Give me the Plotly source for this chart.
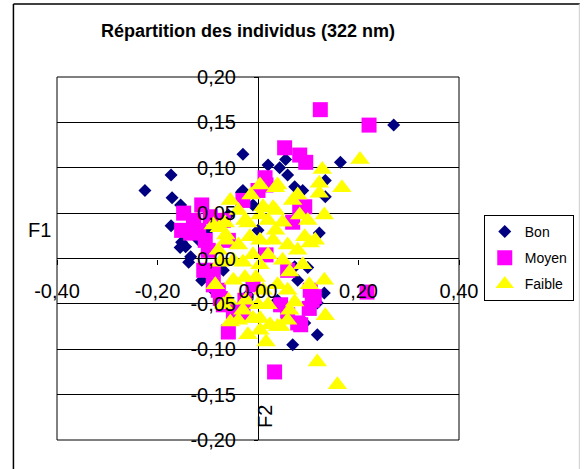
import plotly.graph_objects as go

# ---- data ----
bon_x = [-0.225, -0.173, -0.171, -0.154, -0.173, -0.144, -0.134, -0.138, -0.112, -0.030,
         0.020, 0.043, 0.055, 0.073, 0.089, 0.059, 0.164, 0.270, 0.134, 0.134,
         0.122, -0.033, -0.033, 0.073, 0.099, 0.132, 0.118, 0.118, 0.069, 0.093,
         -0.118, -0.099, -0.059, -0.010, -0.069, -0.089, 0.000, -0.020, 0.039, 0.079,
         -0.030, -0.152, -0.155]
bon_y = [0.075, 0.092, 0.067, 0.059, 0.036, 0.013, 0.002, -0.004, -0.024, 0.115,
         0.103, 0.100, 0.109, 0.079, 0.075, 0.092, 0.106, 0.147, 0.086, 0.068,
         0.028, 0.073, -0.060, -0.009, -0.010, -0.038, -0.049, -0.084, -0.095, -0.071,
         0.020, 0.031, 0.048, 0.059, -0.013, -0.035, 0.031, -0.040, -0.046, -0.024,
         0.075, 0.018, 0.012]

moyen_x = [0.124, 0.221, 0.053, 0.083, 0.095, 0.014, 0.093, 0.069, -0.148, -0.112,
           -0.095, -0.134, -0.099, -0.089, -0.079, -0.059, 0.033, 0.217, -0.026, 0.045,
           0.079, 0.104, 0.102, -0.039, -0.069, -0.010, 0.016, 0.083, -0.030, -0.059,
           -0.118, -0.069, 0.059, 0.000, 0.016, 0.108, -0.128, -0.105,
           -0.108, -0.089, -0.075, -0.049, -0.030, -0.152, -0.128, 0.085, 0.112, 0.059]
moyen_y = [0.164, 0.147, 0.122, 0.114, 0.106, 0.089, 0.057, 0.040, 0.050, 0.059,
           0.046, 0.028, 0.009, -0.013, -0.035, -0.081, -0.125, -0.037, -0.046, -0.051,
           -0.071, -0.035, -0.055, -0.057, -0.051, -0.029, 0.004, 0.053, 0.064, 0.020,
           0.031, 0.042, -0.013, 0.075, 0.081, -0.046, 0.040, 0.020,
           -0.013, -0.029, -0.044, -0.059, -0.062, 0.031, 0.042, -0.073, -0.042, -0.062]

faible_x = [0.203, 0.167, 0.158, 0.118, 0.134, 0.016, 0.128, 0.122, 0.122, 0.132,
            0.083, 0.099, 0.035, -0.014, 0.010, 0.035, -0.026, -0.016, 0.035, 0.030,
            0.093, 0.104, 0.079, -0.065, -0.020, 0.132, 0.073, 0.045, 0.024, -0.010,
            0.000, -0.085, -0.026, 0.039, -0.049, -0.039, 0.004, 0.049, -0.059, 0.010,
            0.059, -0.010, 0.020, -0.030, 0.004, 0.059, 0.114, 0.069, 0.030, 0.039,
            -0.077, -0.064,
            -0.055, -0.039, 0.004, 0.049, -0.063, 0.004, 0.059, -0.075, -0.030, 0.020,
            0.063, -0.049, -0.004, 0.039, -0.069, -0.024, 0.020, 0.063, -0.039, 0.004,
            -0.020, -0.055, -0.089, 0.089, 0.102, 0.079, 0.004, -0.079]
faible_y = [0.109, 0.078, -0.139, -0.114, -0.063, -0.092, 0.098, 0.083, 0.072, 0.048,
            0.048, 0.042, 0.078, 0.070, 0.057, 0.053, 0.042, 0.024, 0.031, 0.020,
            0.024, 0.017, 0.009, 0.039, 0.039, -0.024, -0.048, -0.075, -0.073, -0.066,
            -0.051, -0.029, -0.021, -0.075, -0.002, 0.015, -0.007, -0.002, -0.046, -0.035,
            -0.035, 0.004, 0.042, -0.057, -0.079, -0.068, 0.020, 0.064, 0.056, 0.081,
            0.034, 0.026,
            0.064, 0.053, 0.048, 0.040, 0.020, 0.020, 0.015, -0.004, -0.004, 0.004,
            -0.015, -0.024, -0.021, -0.029, -0.051, -0.046, -0.051, -0.057, -0.068, -0.066,
            -0.084, -0.070, 0.037, -0.007, -0.029, 0.070, 0.081, 0.009]

series_names = ["Bon", "Moyen", "Faible"]

x_tick_vals = [-0.40, -0.20, 0.00, 0.20, 0.40]
x_tick_text = ["-0,40", "-0,20", "0,00", "0,20", "0,40"]
y_tick_vals = [-0.20, -0.15, -0.10, -0.05, 0.00, 0.05, 0.10, 0.15, 0.20]
y_tick_text = ["-0,20", "-0,15", "-0,10", "-0,05", "0,00", "0,05", "0,10", "0,15", "0,20"]

title_text = "Répartition des individus (322 nm)"
x_title = "F1"
y_title = "F2"

FONT = "Liberation Sans, Arial, sans-serif"

fig = go.Figure()
fig.add_trace(go.Scatter(x=bon_x, y=bon_y, mode="markers", name=series_names[0],
                         legendgroup="g1",
                         marker=dict(symbol="diamond", size=10, color="#000080",
                                     line=dict(width=0))))
fig.add_trace(go.Scatter(x=moyen_x, y=moyen_y, mode="markers", name=series_names[1],
                         legendgroup="g2",
                         marker=dict(symbol="square", size=15, color="#FF00FF",
                                     line=dict(width=0))))
fig.add_trace(go.Scatter(x=faible_x, y=faible_y, mode="markers", name=series_names[2],
                         legendgroup="g3",
                         marker=dict(symbol="triangle-up", size=17, color="#FFFF00",
                                     line=dict(width=0))))

# plot area: x 57..463, y 77..440
W, H = 586, 469
L, R, T, B = 57, 123, 77, 29
pw, ph = W - L - R, H - T - B


def px2x(px):
    return (px - L) / pw


def py2y(py):
    return (H - B - py) / ph


fig.update_layout(
    width=W, height=H,
    margin=dict(l=L, r=R, t=T, b=B),
    paper_bgcolor="white", plot_bgcolor="white",
    font=dict(family=FONT, color="black"),
    title=dict(text=title_text, x=248 / W, xref="container", xanchor="center",
               y=1 - 31 / H, yref="container", yanchor="middle",
               font=dict(family=FONT, size=18, color="black", weight="bold")),
    showlegend=True,
    legend=dict(x=px2x(488), y=py2y(215), xanchor="left", yanchor="top",
                bordercolor="black", borderwidth=1, bgcolor="white",
                font=dict(family=FONT, size=14, color="black"),
                itemwidth=30, traceorder="grouped", tracegroupgap=5),
    xaxis=dict(range=[-0.4, 0.4], anchor="free", position=0.5,
               showgrid=False, showline=False,
               zeroline=True, zerolinecolor="black", zerolinewidth=1,
               tickmode="array", tickvals=x_tick_vals, ticktext=x_tick_text,
               ticks="outside", ticklen=5, tickcolor="black", tickwidth=1,
               ticklabelstandoff=9,
               tickfont=dict(family=FONT, size=20, color="black")),
    yaxis=dict(range=[-0.2, 0.2], anchor="free", position=0.5,
               showgrid=True, gridcolor="black", gridwidth=1,
               showline=False,
               zeroline=True, zerolinecolor="black", zerolinewidth=1,
               tickmode="array", tickvals=y_tick_vals, ticktext=y_tick_text,
               ticks="outside", ticklen=4, tickcolor="black", tickwidth=1,
               ticklabelstandoff=14,
               tickfont=dict(family=FONT, size=20, color="black")),
    annotations=[
        dict(text=x_title, x=px2x(39), y=py2y(230), xref="paper", yref="paper",
             showarrow=False, xanchor="center", yanchor="middle",
             font=dict(family=FONT, size=20, color="black")),
        dict(text=y_title, x=px2x(267), y=py2y(416), xref="paper", yref="paper",
             showarrow=False, xanchor="center", yanchor="middle", textangle=-90,
             font=dict(family=FONT, size=20, color="black")),
    ],
    shapes=[
        # plot area border
        dict(type="rect", xref="paper", yref="paper", x0=0, y0=0, x1=1, y1=1,
             line=dict(color="black", width=1), layer="above"),
        # chart area border
        dict(type="line", xref="paper", yref="paper",
             x0=px2x(13), x1=px2x(13), y0=py2y(4), y1=py2y(480),
             line=dict(color="black", width=1.5)),
        dict(type="line", xref="paper", yref="paper",
             x0=px2x(13), x1=px2x(585), y0=py2y(4), y1=py2y(4),
             line=dict(color="black", width=1.5)),
        dict(type="line", xref="paper", yref="paper",
             x0=px2x(584.5), x1=px2x(584.5), y0=py2y(4), y1=py2y(480),
             line=dict(color="#cccccc", width=1)),
    ],
)

fig.write_html("out.html", post_script="document.body.style.margin='0px';",
               config={"displayModeBar": False})
